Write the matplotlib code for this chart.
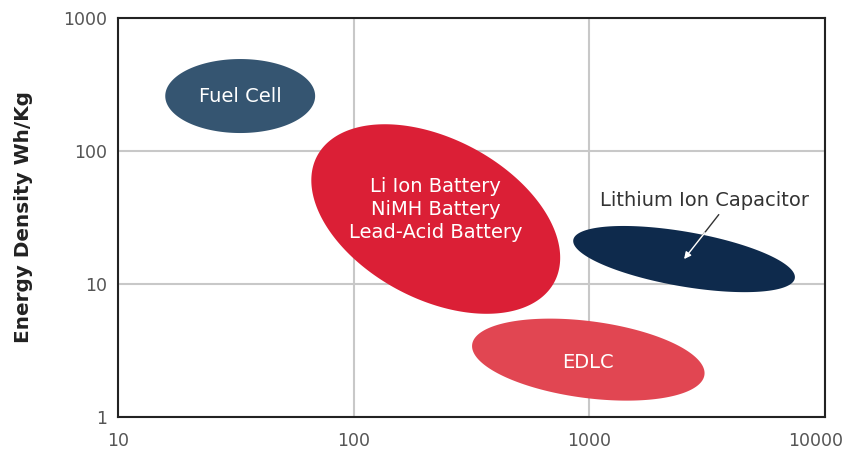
import numpy as np
import matplotlib.pyplot as plt
from matplotlib.transforms import ScaledTranslation

# Ragone-style chart: power density (W/kg) vs energy density (Wh/kg)
names = ['Fuel Cell', 'Li Ion Battery\nNiMH Battery\nLead-Acid Battery', 'EDLC', 'Lithium Ion Capacitor']
power_center = [33.0, 223.0, 990.0, 2523.0]     # W/kg
energy_center = [259.0, 30.8, 2.70, 15.4]       # Wh/kg
major_dec = [0.318, 0.57, 0.497, 0.477]         # semi-axis, in x decades
minor_dec = [0.157, 0.34, 0.163, 0.116]
tilt_deg = [0.0, -28.0, -7.45, -9.85]
colors = ['#355571', '#DB1F36', '#E14652', '#0E2A4C']

xticks = [10, 100, 1000, 10000]
xtick_labels = ['10', '100', '1000', '10000']
yticks = [1, 10, 100, 1000]
ytick_labels = ['1', '10', '100', '1000']

plt.rcParams['font.family'] = ['DejaVu Sans']

fig = plt.figure(figsize=(8.46, 4.54), dpi=100)
ax = fig.add_axes([118/846, 37/454, 707/846, 399/454])
ax.set_xscale('log')
ax.set_yscale('log')
ax.set_xlim(10, 10000)
ax.set_ylim(1, 1000)

# ratio of a y-decade to an x-decade on screen
k = (399/3) / (707/3)

t = np.linspace(0, 2*np.pi, 400)
for i in range(len(names)):
    th = np.deg2rad(tilt_deg[i])
    a, b = major_dec[i], minor_dec[i]
    u = a*np.cos(t)*np.cos(th) - b*np.sin(t)*np.sin(th)
    v = a*np.cos(t)*np.sin(th) + b*np.sin(t)*np.cos(th)
    ax.fill(power_center[i]*10**u, energy_center[i]*10**(v/k), color=colors[i], lw=0, zorder=2)

# labels inside the shapes
fs = 14
ax.text(power_center[0], energy_center[0], names[0], color='white', fontsize=fs,
        ha='center', va='center', zorder=3)
ax.annotate(names[1], (power_center[1], energy_center[1]), xytext=(0, 7), textcoords='offset points',
            color='white', fontsize=fs, ha='center', va='center', linespacing=1.25, zorder=3)
ax.annotate(names[2], (power_center[2], energy_center[2]), xytext=(0, -2), textcoords='offset points',
            color='white', fontsize=fs, ha='center', va='center', zorder=3)

# Lithium Ion Capacitor: label above with arrow into the shape
ax.annotate(names[3], (power_center[3], energy_center[3]), xytext=(15, 42), textcoords='offset points',
            color='#333333', fontsize=fs, ha='center', va='center', zorder=3)
ax.annotate('', (power_center[3], energy_center[3]), xytext=(15, 19), textcoords='offset points',
            arrowprops=dict(arrowstyle='-|>', color='white', lw=1, mutation_scale=10,
                            shrinkA=0, shrinkB=0), zorder=4)
# dark part of the arrow, from under the label down to the shape edge
ax.annotate('', xy=(power_center[3], energy_center[3]), xytext=(25, 32), textcoords='offset points',
            arrowprops=dict(arrowstyle='-', color='#333333', lw=1, shrinkA=0, shrinkB=14), zorder=3)

ax.set_xticks(xticks)
ax.set_xticklabels(xtick_labels)
ax.set_yticks(yticks)
ax.set_yticklabels(ytick_labels)
ax.xaxis.set_minor_locator(plt.NullLocator())
ax.yaxis.set_minor_locator(plt.NullLocator())
ax.tick_params(axis='x', length=0, pad=11, labelsize=12.5, labelcolor='#555555')
ax.tick_params(axis='y', length=0, pad=8, labelsize=12.5, labelcolor='#555555')
# last x label sits a little inside the figure edge
last = ax.get_xticklabels()[-1]
last.set_transform(last.get_transform() + ScaledTranslation(-9/100, 0, fig.dpi_scale_trans))
ax.grid(True, color='#c8c8c8', lw=1.5, zorder=0)
ax.set_axisbelow(True)
for s in ax.spines.values():
    s.set_color('#222222')
    s.set_linewidth(1.5)

ax.set_ylabel('Energy Density Wh/Kg', fontsize=14.4, fontweight='bold', color='#222222')
ax.yaxis.set_label_coords(-0.12, 0.5)

plt.savefig('out.png', dpi=100)
